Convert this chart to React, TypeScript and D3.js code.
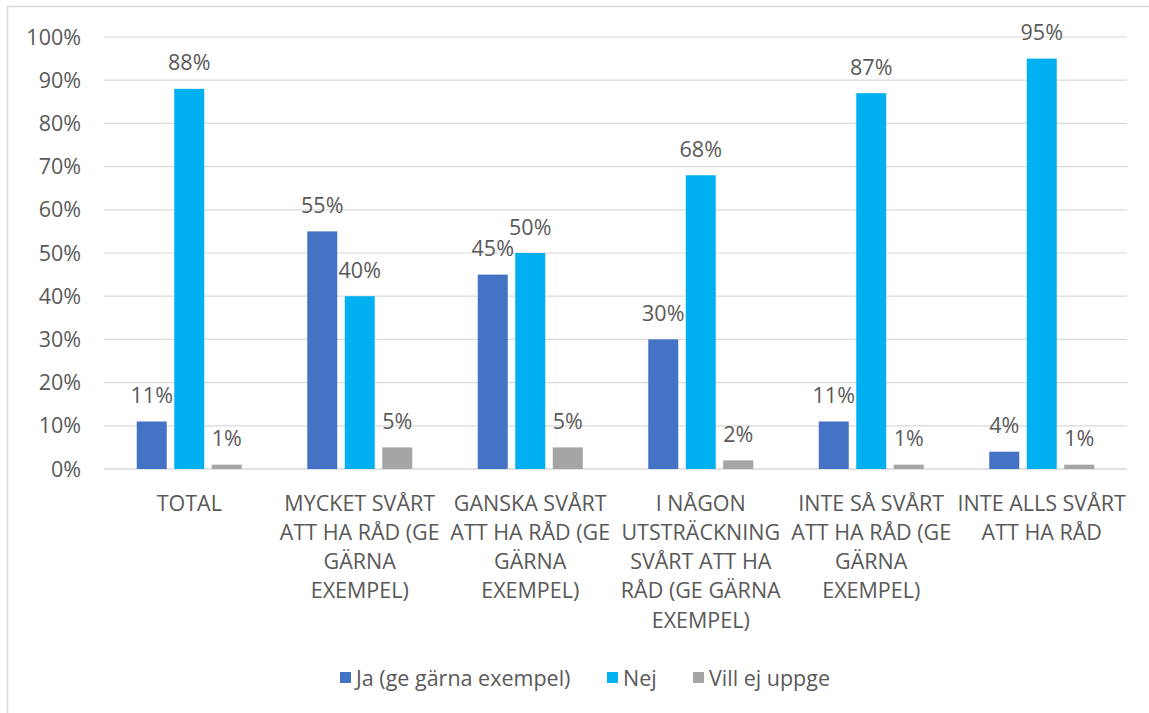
import * as d3 from 'd3';
import React, { useEffect, useRef } from 'react';

const categories = [
  ['TOTAL'],
  ['MYCKET SVÅRT', 'ATT HA RÅD (GE', 'GÄRNA', 'EXEMPEL)'],
  ['GANSKA SVÅRT', 'ATT HA RÅD (GE', 'GÄRNA', 'EXEMPEL)'],
  ['I NÅGON', 'UTSTRÄCKNING', 'SVÅRT ATT HA', 'RÅD (GE GÄRNA', 'EXEMPEL)'],
  ['INTE SÅ SVÅRT', 'ATT HA RÅD (GE', 'GÄRNA', 'EXEMPEL)'],
  ['INTE ALLS SVÅRT', 'ATT HA RÅD'],
];

const seriesNames = ['Ja (ge gärna exempel)', 'Nej', 'Vill ej uppge'];
const jaValues = [11, 55, 45, 30, 11, 4];
const nejValues = [88, 40, 50, 68, 87, 95];
const villEjValues = [1, 5, 5, 2, 1, 1];
const yTicks = [0, 10, 20, 30, 40, 50, 60, 70, 80, 90, 100];

const colors = ['#4472C4', '#00B0F0', '#A5A5A5'];
const textColor = '#595959';
const font = '"Open Sans", Lato, sans-serif';
const fontSize = 21.5;

const W = 1149;
const H = 713;
const plot = { left: 104, right: 1127, top: 37, bottom: 469 };

export default function App() {
  const svgRef = useRef<SVGSVGElement | null>(null);

  useEffect(() => {
    if (!svgRef.current) return;
    const svg = d3.select(svgRef.current);
    svg.selectAll('*').remove();

    const values = [jaValues, nejValues, villEjValues];
    const idx = categories.map((_, i) => String(i));

    const x0 = d3.scaleBand().domain(idx).range([plot.left, plot.right]);
    const x1 = d3.scaleBand().domain(seriesNames).range([-52.5, 52.5]).paddingInner(0.2);
    const y = d3.scaleLinear().domain([0, 100]).range([plot.bottom, plot.top]);

    // frame
    svg.append('rect')
      .attr('x', 7.5).attr('y', 6.5)
      .attr('width', W + 20).attr('height', H - 3)
      .attr('fill', '#fff')
      .attr('stroke', '#d9d9d9')
      .attr('stroke-width', 1.5);

    // grid
    svg.append('g')
      .selectAll('line')
      .data(yTicks)
      .enter()
      .append('line')
      .attr('x1', plot.left).attr('x2', plot.right)
      .attr('y1', (d) => y(d)).attr('y2', (d) => y(d))
      .attr('stroke', '#d9d9d9')
      .attr('stroke-width', d => d === 0 ? 1.5 : 1.2);

    // y labels
    svg.append('g')
      .selectAll('text')
      .data(yTicks)
      .enter()
      .append('text')
      .attr('x', 81)
      .attr('y', (d) => y(d))
      .attr('dy', '0.35em')
      .attr('text-anchor', 'end')
      .attr('font-family', font)
      .attr('font-size', fontSize)
      .attr('fill', textColor)
      .text((d) => `${d}%`);

    // bars + labels
    seriesNames.forEach((name, s) => {
      const g = svg.append('g');
      g.selectAll('rect')
        .data(values[s])
        .enter()
        .append('rect')
        .attr('x', (_, i) => x0(String(i))! + x0.bandwidth() / 2 + x1(name)!)
        .attr('y', (d) => y(d))
        .attr('width', x1.bandwidth())
        .attr('height', (d) => y(0) - y(d))
        .attr('fill', colors[s]);

      g.selectAll('text')
        .data(values[s])
        .enter()
        .append('text')
        .attr('x', (_, i) => x0(String(i))! + x0.bandwidth() / 2 + x1(name)! + x1.bandwidth() / 2)
        .attr('y', (d) => y(d) - 26)
        .attr('dy', '0.35em')
        .attr('text-anchor', 'middle')
        .attr('font-family', font)
        .attr('font-size', fontSize)
        .attr('fill', textColor)
        .text((d) => `${d}%`);
    });

    // category labels
    const xl = svg.append('g');
    categories.forEach((lines, i) => {
      const t = xl.append('text')
        .attr('text-anchor', 'middle')
        .attr('font-family', font)
        .attr('font-size', fontSize)
        .attr('fill', textColor);
      lines.forEach((ln, j) => {
        t.append('tspan')
          .attr('x', x0(String(i))! + x0.bandwidth() / 2)
          .attr('y', 503 + j * 29.3)
          .attr('dy', '0.35em')
          .text(ln);
      });
    });

    // legend
    const legendX = [340, 607, 693];
    const lg = svg.append('g');
    seriesNames.forEach((name, s) => {
      lg.append('rect')
        .attr('x', legendX[s]).attr('y', 672)
        .attr('width', 11).attr('height', 11)
        .attr('fill', colors[s]);
      lg.append('text')
        .attr('x', legendX[s] + 16)
        .attr('y', 678)
        .attr('dy', '0.35em')
        .attr('font-family', font)
        .attr('font-size', fontSize)
        .attr('fill', textColor)
        .text(name);
    });
  }, []);

  return (
    <svg
      ref={svgRef}
      width={W}
      height={H}
      style={{ position: 'absolute', left: 0, top: 0, background: '#fff' }}
    />
  );
}
